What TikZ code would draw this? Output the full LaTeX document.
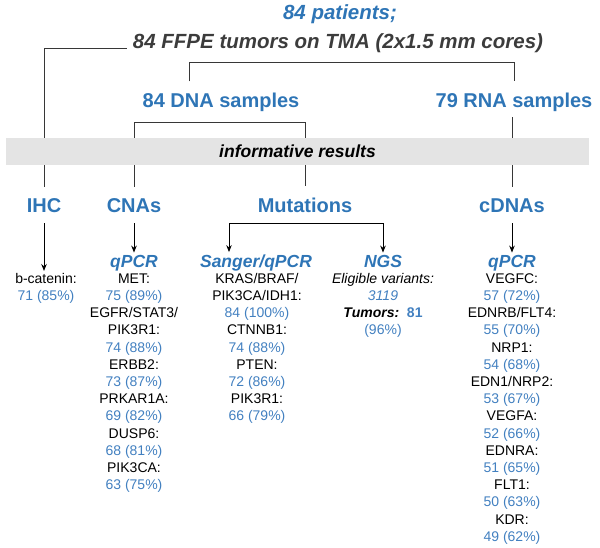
\documentclass[tikz,border=0pt]{standalone}
\usepackage{fontspec}
\setmainfont{Liberation Sans}
\usetikzlibrary{arrows.meta,calc}

\definecolor{headblue}{RGB}{46,117,182}
\definecolor{numblue}{RGB}{66,128,192}
\definecolor{titlegray}{RGB}{60,60,60}
\definecolor{linegray}{RGB}{55,55,55}
\definecolor{bandgray}{RGB}{228,228,228}
\newcommand{\nv}[1]{\textcolor{numblue}{#1}}

\tikzset{
    head/.style={font=\fontsize{20}{22}\selectfont\bfseries, text=headblue, inner xsep=6pt, inner ysep=11pt, anchor=base},
    title/.style={head, font=\fontsize{20.5}{22}\selectfont\bfseries\itshape},
    method/.style={font=\fontsize{17.5}{20}\selectfont\bfseries\itshape, text=headblue, inner sep=2pt, anchor=base},
    result/.style={font=\fontsize{14}{17.2}\selectfont, align=center, inner sep=0pt, anchor=north},
    link/.style={draw=linegray, line width=1pt},
    arr/.style={draw=black, line width=1pt, -{Stealth[length=7pt,width=5.5pt]}},
}

\begin{document}
\begin{tikzpicture}[x=1pt, y=-1pt]
    \useasboundingbox (0,0) rectangle (600,547);

    % Kohorte
    \node[title] (pat) at (340,19) {84 patients;};
    \node[title, text=titlegray] (tma) at (338,48) {84 FFPE tumors on TMA (2x1.5 mm cores)};

    % Proben
    \node[head] (dna) at (221,107) {84 DNA samples};
    \node[head] (rna) at (514,107) {79 RNA samples};

    % Analysen
    \node[head] (ihc) at (44,212) {IHC};
    \node[head] (cnas) at (134,212) {CNAs};
    \node[head] (mut) at (305,212) {Mutations};
    \node[head] (cdna) at (512,212) {cDNAs};

    % Methoden
    \node[method] (qcna) at (134,267) {qPCR};
    \node[method] (sang) at (256,267) {Sanger/qPCR};
    \node[method] (ngs) at (383,267) {NGS};
    \node[method] (qcdna) at (512,267) {qPCR};

    % Ergebnisse
    \node[result] (bcat) at (46,271) {\strut b-catenin:\\\nv{71 (85\%)}};
    \node[result] (rcna) at (134,271) {\strut MET:\\\nv{75 (89\%)}\\EGFR/STAT3/\\PIK3R1:\\\nv{74 (88\%)}\\ERBB2:\\\nv{73 (87\%)}\\PRKAR1A:\\\nv{69 (82\%)}\\DUSP6:\\\nv{68 (81\%)}\\PIK3CA:\\\nv{63 (75\%)}};
    \node[result] (rsang) at (257,271) {\strut KRAS/BRAF/\\PIK3CA/IDH1:\\\nv{84 (100\%)}\\CTNNB1:\\\nv{74 (88\%)}\\PTEN:\\\nv{72 (86\%)}\\PIK3R1:\\\nv{66 (79\%)}};
    \node[result] (rngs) at (383,271) {\strut\textit{Eligible variants:}\\\nv{\textit{3119}}\\\textbf{\textit{Tumors:}}\ \ \nv{\textbf{81}}\\\nv{(96\%)}};
    \node[result] (rcdna) at (512,271) {\strut VEGFC:\\\nv{57 (72\%)}\\EDNRB/FLT4:\\\nv{55 (70\%)}\\NRP1:\\\nv{54 (68\%)}\\EDN1/NRP2:\\\nv{53 (67\%)}\\VEGFA:\\\nv{52 (66\%)}\\EDNRA:\\\nv{51 (65\%)}\\FLT1:\\\nv{50 (63\%)}\\KDR:\\\nv{49 (62\%)}};

    % Verbindungen
    \draw[link] (tma.base west) -| (ihc.north);
    \draw[link] ($(dna.north)+(-32,0)$) -- ++(0,-19) -| (rna.north);
    \draw[link] (cnas.north) |- (dna.south) -| (mut.north);
    \draw[link, shorten <=-5pt] (cdna.north |- rna.south) -- (cdna.north);

    % Balken
    \node[fill=bandgray, minimum width=583pt, minimum height=27pt, inner sep=0pt,
          font=\fontsize{17.5}{20}\selectfont\bfseries\itshape] (info) at (297.5,151.5) {informative results};

    % Pfeile
    \draw[arr] (ihc.south) -- (ihc.south |- bcat.north);
    \draw[arr] (cnas.south) -- (qcna.north);
    \draw[arr] (mut.south) -| ($(sang.north)+(-27,0)$);
    \draw[arr] (mut.south) -| (ngs.north);
    \draw[arr] (cdna.south) -- (qcdna.north);
\end{tikzpicture}
\end{document}
